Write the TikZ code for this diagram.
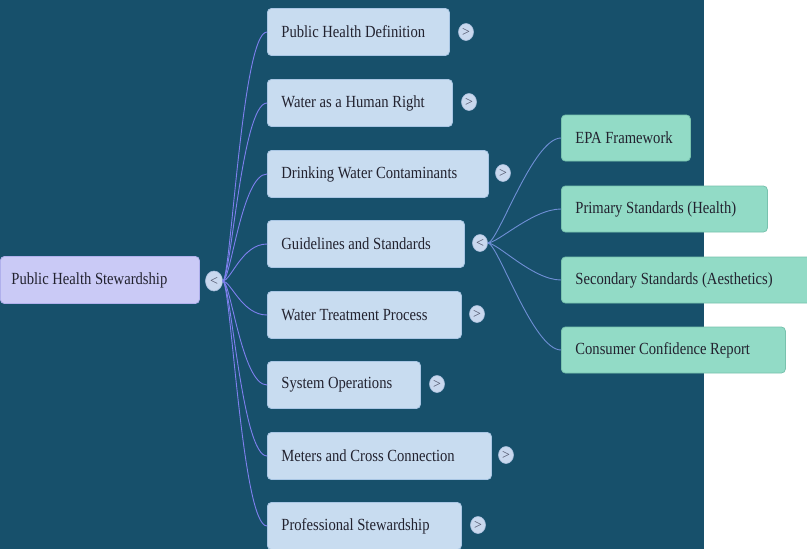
\documentclass[tikz,border=0pt]{standalone}
\usepackage{fontspec}
\setmainfont{Liberation Serif}
\newfontfamily\boxfont[FakeStretch=0.86]{Liberation Serif}
\definecolor{bgc}{HTML}{17506B}
\definecolor{lfill}{HTML}{C8DCF0}
\definecolor{lline}{HTML}{A9C6E4}
\definecolor{rfill}{HTML}{CACAF6}
\definecolor{rline}{HTML}{B0B0EC}
\definecolor{gfill}{HTML}{92DBC6}
\definecolor{gline}{HTML}{78C2AE}
\definecolor{conn}{HTML}{7E80EE}
\definecolor{gconn}{HTML}{6F8FD6}
\definecolor{tfill}{HTML}{C9D8EE}
\definecolor{tline}{HTML}{A8BFDD}
\definecolor{txt}{HTML}{22222F}
\definecolor{tglyph}{HTML}{4A4E64}
\usetikzlibrary{shapes.geometric}
\tikzset{
  box/.style={rectangle, rounded corners=4pt, line width=0.8pt, anchor=west,
    inner xsep=14pt, inner ysep=0pt, align=flush left, text=txt,
    font=\boxfont\fontsize{17}{19}\selectfont},
  lvl/.style={box, fill=lfill, draw=lline, minimum height=47pt},
  rootbox/.style={box, fill=rfill, draw=rline, minimum height=47pt, inner xsep=11pt},
  leaf/.style={box, fill=gfill, draw=gline, minimum height=46pt},
  tog/.style={ellipse, fill=tfill, draw=tline, line width=0.6pt, minimum width=15pt,
    minimum height=17pt, inner sep=0pt, text=tglyph, font=\fontsize{14}{14}\selectfont},
  conn/.style={draw=conn, line width=0.9pt},
  gconn/.style={draw=gconn, line width=0.9pt},
}
\begin{document}
\begin{tikzpicture}[x=1pt, y=-1pt]
\useasboundingbox (0,0) rectangle (807,549);
\fill[white] (0,0) rectangle (807,549);
\fill[bgc] (0,0) rectangle (704,549);

% root
\node[rootbox, text width=177pt] (root) at (0,280) {Public Health Stewardship};
\node[tog, minimum width=17pt, minimum height=20pt] (rootT) at (214,281) {<};

% level 1
\node[lvl, text width=154pt] (n1) at (267,32) {Public Health Definition};
\node[lvl, text width=157pt] (n2) at (267,103) {Water as a Human Right};
\node[lvl, text width=193pt] (n3) at (267,174) {Drinking Water Contaminants};
\node[lvl, text width=169pt] (n4) at (267,244) {Guidelines and Standards};
\node[lvl, text width=166pt] (n5) at (267,315) {Water Treatment Process};
\node[lvl, text width=125pt] (n6) at (267,385) {System Operations};
\node[lvl, text width=196pt] (n7) at (267,456) {Meters and Cross Connection};
\node[lvl, text width=166pt] (n8) at (267,526) {Professional Stewardship};

\node[tog] (t1) at (466,32) {>};
\node[tog] (t2) at (469,102) {>};
\node[tog] (t3) at (503,173) {>};
\node[tog] (t4) at (480,243) {<};
\node[tog] (t5) at (477,314) {>};
\node[tog] (t6) at (437,384) {>};
\node[tog] (t7) at (506,455) {>};
\node[tog] (t8) at (478,525) {>};

% leaves
\node[leaf, text width=101pt] (g1) at (561,138) {EPA Framework};
\node[leaf, text width=178pt] (g2) at (561,209) {Primary Standards (Health)};
\node[leaf, text width=226pt] (g3) at (561,280) {Secondary Standards (Aesthetics)};
\node[leaf, text width=196pt] (g4) at (561,350) {Consumer Confidence Report};

% connectors
\foreach \n in {n1,n2,n3,n4,n5,n6,n7,n8}
  \draw[conn] (rootT.east) .. controls +(8,0) and +(-25,0) .. (\n.west);
\foreach \g in {g1,g2,g3,g4}
  \draw[gconn] (t4.east) .. controls +(10,0) and +(-28,0) .. (\g.west);
\end{tikzpicture}
\end{document}
